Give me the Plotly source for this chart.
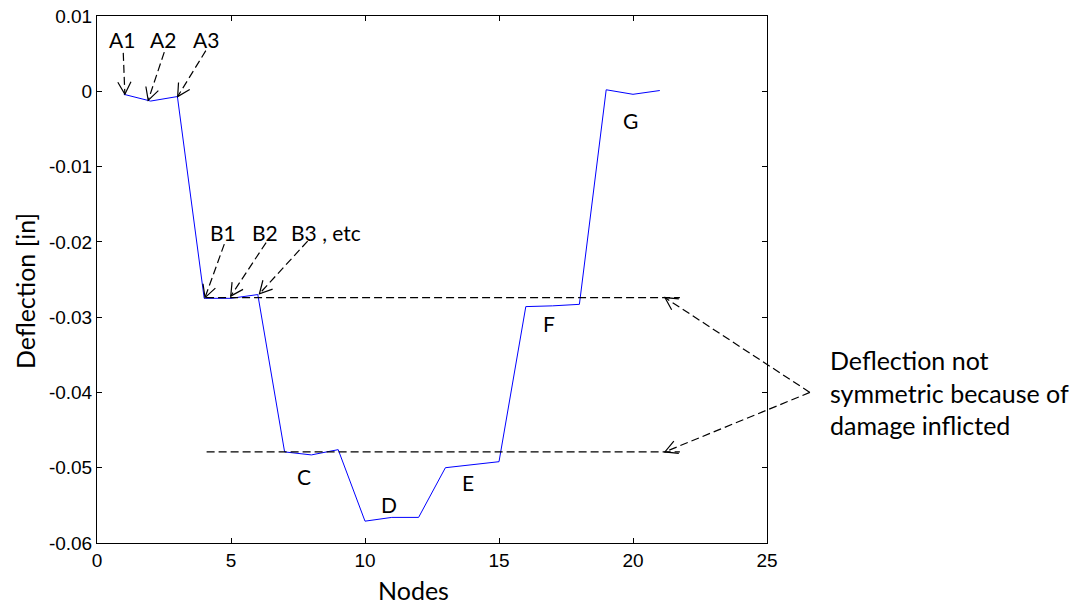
import math
import plotly.graph_objects as go

# ---- data ----
nodes = list(range(1, 22))
deflection = [-0.0004, -0.0013, -0.0007, -0.0275, -0.0275, -0.0270, -0.0479,
              -0.0483, -0.0476, -0.0571, -0.0566, -0.0566, -0.0500, -0.0496,
              -0.0492, -0.0286, -0.0285, -0.0283, 0.0002, -0.0004, 0.0001]

x_ticks = [0, 5, 10, 15, 20, 25]
y_ticks = [0.01, 0, -0.01, -0.02, -0.03, -0.04, -0.05, -0.06]
y_ticktext = ["0.01", "0", "-0.01", "-0.02", "-0.03", "-0.04", "-0.05", "-0.06"]

label_texts = ["A1", "A2", "A3", "B1", "B2", "B3 , etc", "C", "D", "E", "F", "G"]
label_x = [0.92, 2.47, 4.06, 4.71, 6.27, 8.53, 7.72, 10.91, 13.85, 16.88, 19.89]
label_y = [0.0069, 0.0069, 0.0069, -0.0187, -0.0187, -0.0187, -0.0512, -0.0549,
           -0.0519, -0.0309, -0.0039]

# arrows: (tail x, tail y, tip x, tip y)
arrows = [
    (0.98, 0.0051, 1.04, -0.0004),
    (2.51, 0.0052, 1.91, -0.0012),
    (4.06, 0.0054, 3.01, -0.0007),
    (4.75, -0.0203, 4.03, -0.0274),
    (6.31, -0.0201, 4.99, -0.0272),
    (7.86, -0.0199, 6.06, -0.0269),
    (26.6, -0.0400, 21.19, -0.0274),
    (26.6, -0.0400, 21.19, -0.0479),
]
# horizontal reference lines (start x, end x, level)
ref_lines = [(4.07, 21.75, -0.0274), (4.09, 21.75, -0.0479)]

note_text = "Deflection not<br>symmetric because of<br>damage inflicted"
note_x, note_y = 27.28, -0.0400

# ---- layout geometry ----
# page body has an 8px margin, so the figure is offset by 8px
W, H = 1079, 597
ML, MR, MT, MB = 89, 320, 8, 62
PW, PH = W - ML - MR, H - MT - MB
PAGE_LEFT, PAGE_BOTTOM = 8 + ML, 8 + MT + PH
XR = (0, 25)
YR = (-0.06, 0.01)


def to_paper(x, y):
    return (x - XR[0]) / (XR[1] - XR[0]), (y - YR[0]) / (YR[1] - YR[0])


def page_to_paper(px, py):
    return (px - PAGE_LEFT) / PW, (PAGE_BOTTOM - py) / PH


fig = go.Figure()
fig.add_trace(go.Scatter(x=nodes, y=deflection, mode="lines",
                         line=dict(color="#0000ff", width=1), showlegend=False))

shapes = []
dash = "8px,4px"
for x0, x1, yv in ref_lines:
    px0, py0 = to_paper(x0, yv)
    px1, py1 = to_paper(x1, yv)
    shapes.append(dict(type="line", xref="paper", yref="paper", x0=px0, y0=py0,
                       x1=px1, y1=py1, line=dict(color="black", width=1.2, dash=dash)))

L = 14.0
theta = math.radians(28)
for tx, ty, hx, hy in arrows:
    ptx, pty = to_paper(tx, ty)
    phx, phy = to_paper(hx, hy)
    shapes.append(dict(type="line", xref="paper", yref="paper", x0=ptx, y0=pty,
                       x1=phx, y1=phy, line=dict(color="black", width=1.2, dash=dash)))
    dx = (phx - ptx) * PW
    dy = (phy - pty) * PH
    n = math.hypot(dx, dy)
    ux, uy = dx / n, dy / n
    pts = []
    for s in (1, -1):
        c, si = math.cos(s * theta), math.sin(s * theta)
        rx = ux * c - uy * si
        ry = ux * si + uy * c
        pts.append((phx - L * rx / PW, phy - L * ry / PH))
    path = "M{:.5f},{:.5f} L{:.5f},{:.5f} L{:.5f},{:.5f}".format(
        pts[0][0], pts[0][1], phx, phy, pts[1][0], pts[1][1])
    shapes.append(dict(type="path", xref="paper", yref="paper", path=path,
                       line=dict(color="black", width=1.2)))

annotations = []
for t, x, y in zip(label_texts, label_x, label_y):
    px, py = to_paper(x, y)
    annotations.append(dict(text=t, x=px, y=py, xref="paper", yref="paper",
                            showarrow=False, xanchor="center", yanchor="middle",
                            font=dict(family="Lato", size=21, color="black")))

npx, npy = to_paper(note_x, note_y)
annotations.append(dict(text=note_text, x=npx, y=npy, xref="paper", yref="paper",
                        showarrow=False, xanchor="left", yanchor="middle", align="left",
                        font=dict(family="Lato", size=25, color="black")))

# axis titles
tx, ty = page_to_paper(413, 590)
annotations.append(dict(text="Nodes", x=tx, y=ty, xref="paper", yref="paper",
                        showarrow=False, xanchor="center", yanchor="middle",
                        font=dict(family="Lato", size=25, color="black")))
tx, ty = page_to_paper(25, 291)
annotations.append(dict(text="Deflection [in]", x=tx, y=ty, xref="paper", yref="paper",
                        showarrow=False, textangle=-90,
                        xanchor="center", yanchor="middle",
                        font=dict(family="Lato", size=25, color="black")))

axis_common = dict(showline=True, linecolor="black", linewidth=1, mirror="ticks",
                   ticks="inside", ticklen=5, tickcolor="black", tickwidth=1,
                   showgrid=False, zeroline=False, ticklabeloverflow="allow",
                   automargin=False,
                   tickfont=dict(family="Liberation Sans", size=19, color="black"))

fig.update_layout(
    width=W, height=H,
    margin=dict(l=ML, r=MR, t=MT, b=MB, pad=0, autoexpand=False),
    plot_bgcolor="white", paper_bgcolor="white",
    xaxis=dict(range=list(XR), tickvals=x_ticks, **axis_common),
    yaxis=dict(range=list(YR), tickvals=y_ticks, ticktext=y_ticktext, **axis_common),
    shapes=shapes, annotations=annotations, showlegend=False,
)

fig.write_html("out.html")
